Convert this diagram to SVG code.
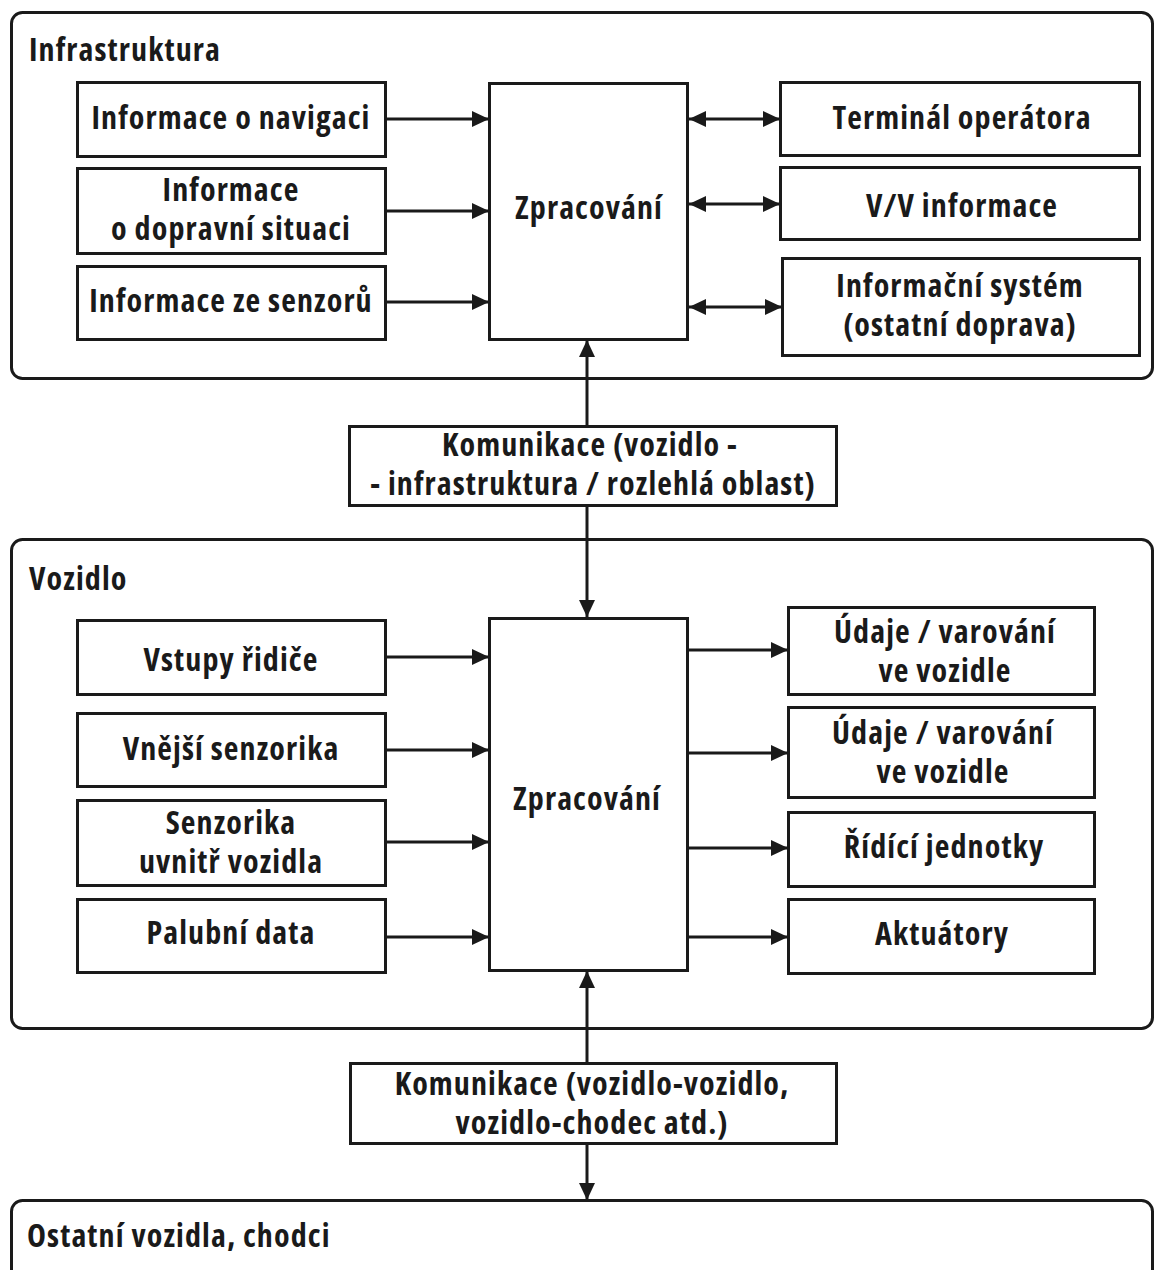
<svg xmlns="http://www.w3.org/2000/svg" width="1155" height="1270" viewBox="0 0 1155 1270">
<defs>
<marker id="ah" viewBox="0 0 17 16" refX="17" refY="8" markerWidth="17" markerHeight="16" markerUnits="userSpaceOnUse" orient="auto-start-reverse"><path d="M0,0 L17,8 L0,16 Z" fill="#1a1a1a"/></marker>
</defs>
<style>
.c{fill:#fff;stroke:#1a1a1a;stroke-width:3}
.b{fill:#fff;stroke:#1a1a1a;stroke-width:3}
text{font-family:"Open Sans","Noto Sans","DejaVu Sans",sans-serif;font-weight:700;font-size:32px;font-stretch:87.5%;letter-spacing:1.1px;fill:#1a1a1a}
.m{text-anchor:middle}
.ln{stroke:#1a1a1a;stroke-width:3;fill:none}
</style>
<rect width="1155" height="1270" fill="#fff"/>
<g id="infrastruktura">
<rect class="c" x="11.5" y="12.5" width="1141" height="366" rx="11"/>
<text x="29" y="61">Infrastruktura</text>
</g>
<g id="vozidlo">
<rect class="c" x="11.5" y="539.5" width="1141" height="489" rx="11"/>
<text x="29" y="590">Vozidlo</text>
</g>
<g id="ostatni">
<rect class="c" x="11.5" y="1200.5" width="1141" height="100" rx="11"/>
<text x="27" y="1247">Ostatní vozidla, chodci</text>
</g>
<g id="connectors">
<line class="ln" x1="386" y1="119" x2="489" y2="119" marker-end="url(#ah)"/>
<line class="ln" x1="386" y1="211" x2="489" y2="211" marker-end="url(#ah)"/>
<line class="ln" x1="386" y1="302" x2="489" y2="302" marker-end="url(#ah)"/>
<line class="ln" x1="689" y1="119" x2="780" y2="119" marker-start="url(#ah)" marker-end="url(#ah)"/>
<line class="ln" x1="689" y1="204" x2="780" y2="204" marker-start="url(#ah)" marker-end="url(#ah)"/>
<line class="ln" x1="689" y1="307" x2="782" y2="307" marker-start="url(#ah)" marker-end="url(#ah)"/>
<line class="ln" x1="587" y1="426" x2="587" y2="340" marker-end="url(#ah)"/>
<line class="ln" x1="587" y1="506" x2="587" y2="617" marker-end="url(#ah)"/>
<line class="ln" x1="386" y1="657" x2="489" y2="657" marker-end="url(#ah)"/>
<line class="ln" x1="386" y1="750" x2="489" y2="750" marker-end="url(#ah)"/>
<line class="ln" x1="386" y1="842" x2="489" y2="842" marker-end="url(#ah)"/>
<line class="ln" x1="386" y1="937" x2="489" y2="937" marker-end="url(#ah)"/>
<line class="ln" x1="687" y1="650" x2="788" y2="650" marker-end="url(#ah)"/>
<line class="ln" x1="687" y1="753" x2="788" y2="753" marker-end="url(#ah)"/>
<line class="ln" x1="687" y1="848" x2="788" y2="848" marker-end="url(#ah)"/>
<line class="ln" x1="687" y1="937" x2="788" y2="937" marker-end="url(#ah)"/>
<line class="ln" x1="587" y1="1063" x2="587" y2="971" marker-end="url(#ah)"/>
<line class="ln" x1="587" y1="1143" x2="587" y2="1200" marker-end="url(#ah)"/>
</g>
<g id="n-navigace"><rect class="b" x="77.5" y="82.5" width="308" height="74"/><text class="m" x="231" y="129">Informace o navigaci</text></g>
<g id="n-doprava"><rect class="b" x="77.5" y="168.5" width="308" height="85"/><text class="m" x="231" y="201">Informace</text><text class="m" x="231" y="240">o dopravní situaci</text></g>
<g id="n-senzory"><rect class="b" x="77.5" y="266.5" width="308" height="73"/><text class="m" x="231" y="312">Informace ze senzorů</text></g>
<g id="n-zprac1"><rect class="b" x="489.5" y="83.5" width="198" height="256"/><text class="m" x="589" y="219">Zpracování</text></g>
<g id="n-terminal"><rect class="b" x="780.5" y="82.5" width="359" height="73"/><text class="m" x="962" y="129">Terminál operátora</text></g>
<g id="n-vv"><rect class="b" x="780.5" y="167.5" width="359" height="72"/><text class="m" x="962" y="217">V/V informace</text></g>
<g id="n-infosys"><rect class="b" x="782.5" y="258.5" width="357" height="97"/><text class="m" x="960" y="297">Informační systém</text><text class="m" x="960" y="336">(ostatní doprava)</text></g>
<g id="n-kom1"><rect class="b" x="349.5" y="426.5" width="487" height="79"/><text class="m" x="590" y="456">Komunikace (vozidlo -</text><text class="m" x="593" y="495">- infrastruktura / rozlehlá oblast)</text></g>
<g id="n-vstupy"><rect class="b" x="77.5" y="620.5" width="308" height="74"/><text class="m" x="231" y="671">Vstupy řidiče</text></g>
<g id="n-vnejsi"><rect class="b" x="77.5" y="713.5" width="308" height="73"/><text class="m" x="231" y="760">Vnější senzorika</text></g>
<g id="n-uvnitr"><rect class="b" x="77.5" y="800.5" width="308" height="85"/><text class="m" x="231" y="834">Senzorika</text><text class="m" x="231" y="873">uvnitř vozidla</text></g>
<g id="n-palubni"><rect class="b" x="77.5" y="899.5" width="308" height="73"/><text class="m" x="231" y="944">Palubní data</text></g>
<g id="n-zprac2"><rect class="b" x="489.5" y="618.5" width="198" height="352"/><text class="m" x="587" y="810">Zpracování</text></g>
<g id="n-udaje1"><rect class="b" x="788.5" y="607.5" width="306" height="87"/><text class="m" x="945" y="643">Údaje / varování</text><text class="m" x="945" y="682">ve vozidle</text></g>
<g id="n-udaje2"><rect class="b" x="788.5" y="707.5" width="306" height="90"/><text class="m" x="943" y="744">Údaje / varování</text><text class="m" x="943" y="783">ve vozidle</text></g>
<g id="n-ridici"><rect class="b" x="788.5" y="812.5" width="306" height="74"/><text class="m" x="944" y="858">Řídící jednotky</text></g>
<g id="n-aktuatory"><rect class="b" x="788.5" y="899.5" width="306" height="74"/><text class="m" x="942" y="945">Aktuátory</text></g>
<g id="n-kom2"><rect class="b" x="350.5" y="1063.5" width="486" height="80"/><text class="m" x="592" y="1095">Komunikace (vozidlo-vozidlo,</text><text class="m" x="592" y="1134">vozidlo-chodec atd.)</text></g>
</svg>
